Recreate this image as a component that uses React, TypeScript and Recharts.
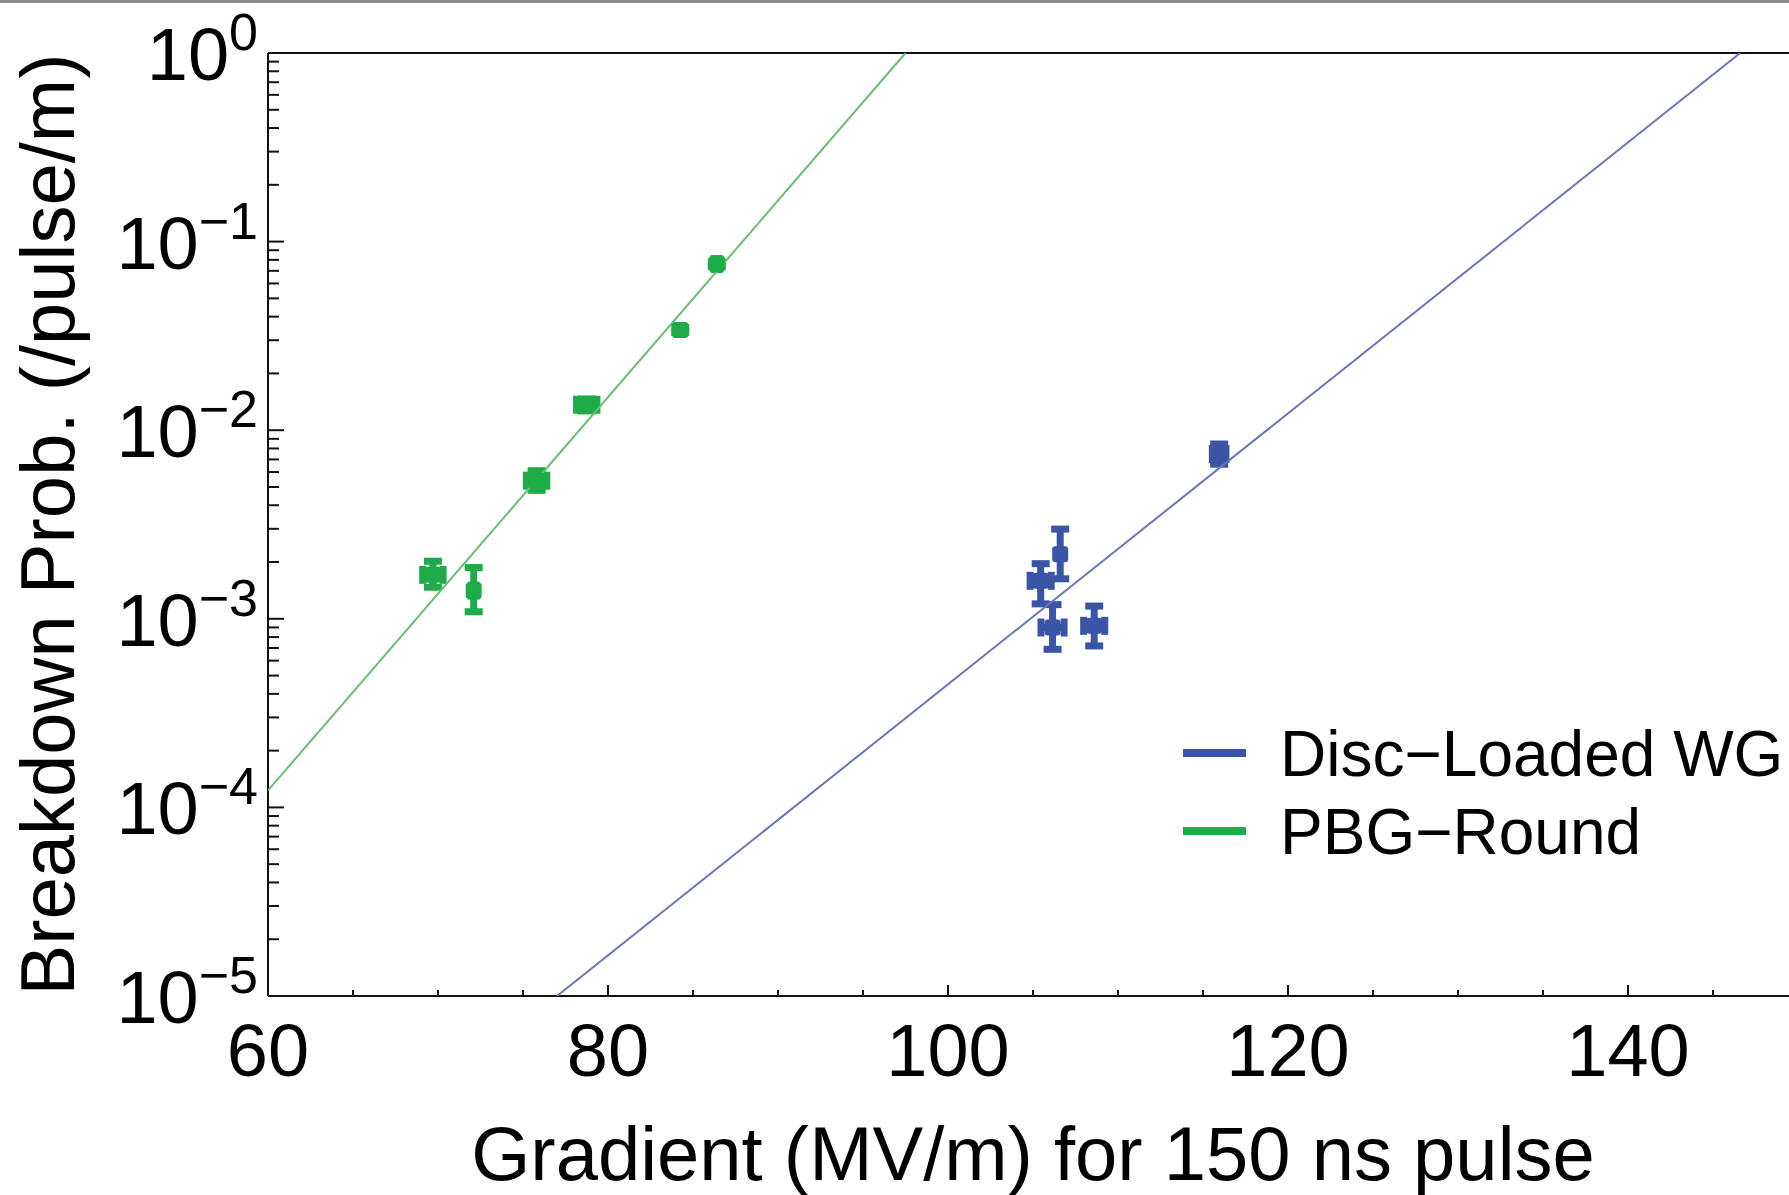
import React from 'react';
import { ComposedChart, Scatter, XAxis, YAxis, ErrorBar, Legend, ReferenceLine } from 'recharts';

const FONT = '"Liberation Sans", Arial, Helvetica, sans-serif';

const BLUE = '#3a55a5';
const BLUE_LINE = '#6c74bd';
const GREEN = '#1eab4a';
const GREEN_LINE = '#63c06c';

// PBG-Round measurements (gradient MV/m, breakdown prob /pulse/m)
const pbgPoints = [
  { x: 69.7, y: 1.71e-3, ex: 0.6, ey: [0.24e-3, 0.31e-3] },
  { x: 72.1, y: 1.41e-3, ex: 0.15, ey: [0.32e-3, 0.46e-3] },
  { x: 75.8, y: 5.4e-3, ex: 0.6, ey: [0.6e-3, 0.7e-3] },
  { x: 78.75, y: 1.365e-2, ex: 0.6, ey: [1.0e-3, 1.0e-3] },
  { x: 84.25, y: 3.4e-2, ex: 0, ey: [0.1e-2, 0.1e-2] },
  { x: 86.4, y: 7.6e-2, ex: 0.15, ey: [0.2e-2, 0.2e-2] },
];

// Disc-Loaded WG measurements
const discPoints = [
  { x: 115.95, y: 7.48e-3, ex: 0.4, ey: [0.88e-3, 0.97e-3] },
  { x: 106.6, y: 2.2e-3, ex: 0, ey: [0.57e-3, 0.79e-3] },
  { x: 105.45, y: 1.59e-3, ex: 0.62, ey: [0.39e-3, 0.37e-3] },
  { x: 106.15, y: 8.99e-4, ex: 0.68, ey: [0.21e-3, 0.29e-3] },
  { x: 108.6, y: 9.18e-4, ex: 0.62, ey: [0.2e-3, 0.25e-3] },
];

// Fit lines (end points)
const pbgFit = [
  { x: 60, y: 1.23e-4 },
  { x: 97.5, y: 1 },
];
const discFit = [
  { x: 77, y: 1e-5 },
  { x: 146.6, y: 1 },
];

const xMajorTicks = [60, 80, 100, 120, 140];
const xTicks = [60, 65, 70, 75, 80, 85, 90, 95, 100, 105, 110, 115, 120, 125, 130, 135, 140, 145];
const yMajorTicks = [1e-5, 1e-4, 1e-3, 1e-2, 1e-1, 1];
const yExponentLabels = ['\u22125', '\u22124', '\u22123', '\u22122', '\u22121', '0'];
const yMinorMultipliers = [2, 3, 4, 5, 6, 7, 8, 9];
const yTicks = [
  ...yMajorTicks,
  ...yMajorTicks.slice(0, 5).flatMap((m) => yMinorMultipliers.map((k) => k * m)),
].sort((a, b) => a - b);

const legendItems = [
  { label: 'Disc\u2212Loaded WG', color: BLUE },
  { label: 'PBG\u2212Round', color: GREEN },
];

function majorIndex(v: number) {
  return yMajorTicks.findIndex((m) => Math.abs(v / m - 1) < 1e-6);
}

function YTick(props: any) {
  const { x, y, payload } = props;
  const idx = majorIndex(payload.value);
  const major = idx >= 0;
  const len = major ? 16 : 11;
  return (
    <g>
      <line x1={x} x2={x + len} y1={y} y2={y} stroke="#111" strokeWidth={2} />
      {major && (
        <text x={x - 10} y={y + 27} textAnchor="end" fontSize={74} fontFamily={FONT} fill="#000">
          <tspan>10</tspan>
          <tspan dy={-30} fontSize={52}>
            {yExponentLabels[idx]}
          </tspan>
        </text>
      )}
    </g>
  );
}

function XTick(props: any) {
  const { x, y, payload } = props;
  const major = xMajorTicks.includes(payload.value);
  const len = major ? 11 : 6;
  return (
    <g>
      <line x1={x} x2={x} y1={y} y2={y - len} stroke="#111" strokeWidth={2} />
      {major && (
        <text x={x} y={y + 80} textAnchor="middle" fontSize={74} fontFamily={FONT} fill="#000">
          {payload.value}
        </text>
      )}
    </g>
  );
}

function Marker(props: any) {
  const { cx, cy, fill } = props;
  if (cx == null || cy == null) return <g />;
  return <rect x={cx - 8} y={cy - 8} width={16} height={16} rx={3} fill={fill} />;
}

function NoShape() {
  return <g />;
}

function LegendContent() {
  return (
    <svg width={600} height={200} style={{ overflow: 'visible' }}>
      {legendItems.map((it, i) => (
        <g key={it.label}>
          <rect x={0} y={49 + i * 78} width={63} height={8} fill={it.color} />
          <text x={97} y={76 + i * 78} fontSize={64} fontFamily={FONT} fill="#000">
            {it.label}
          </text>
        </g>
      ))}
    </svg>
  );
}

export default function App() {
  return (
    <div
      style={{
        position: 'absolute',
        left: 0,
        top: 0,
        width: 1789,
        height: 1195,
        overflow: 'hidden',
        background: '#fff',
      }}
    >
      <div style={{ position: 'absolute', left: 0, top: 0, width: 1789, height: 3, background: '#8c8c8c' }} />
      <ComposedChart width={1800} height={1195} margin={{ top: 53, right: 2, bottom: 0, left: 0 }}>
        <XAxis
          type="number"
          dataKey="x"
          domain={[60, 150]}
          ticks={xTicks}
          interval={0}
          allowDataOverflow
          height={199}
          tickSize={0}
          tickMargin={0}
          tickLine={false}
          tick={<XTick />}
          axisLine={{ stroke: '#111', strokeWidth: 2 }}
          label={{
            content: (p: any) => {
              const vb = p.viewBox || { x: 268, y: 996, width: 1530 };
              return (
                <text
                  x={vb.x + vb.width / 2}
                  y={vb.y + 184}
                  textAnchor="middle"
                  fontSize={76}
                  fontFamily={FONT}
                  fill="#000"
                >
                  Gradient (MV/m) for 150 ns pulse
                </text>
              );
            },
          }}
        />
        <YAxis
          type="number"
          dataKey="y"
          scale="log"
          domain={[1e-5, 1]}
          ticks={yTicks}
          interval={0}
          allowDataOverflow
          width={268}
          tickSize={0}
          tickMargin={0}
          tickLine={false}
          tick={<YTick />}
          axisLine={{ stroke: '#111', strokeWidth: 2 }}
          label={{
            content: (p: any) => {
              const vb = p.viewBox || { x: 0, y: 53, width: 268, height: 943 };
              const cx = 74;
              const cy = vb.y + vb.height / 2;
              return (
                <text
                  x={cx}
                  y={cy}
                  transform={`rotate(-90, ${cx}, ${cy})`}
                  textAnchor="middle"
                  fontSize={76}
                  fontFamily={FONT}
                  fill="#000"
                >
                  Breakdown Prob. (/pulse/m)
                </text>
              );
            },
          }}
        />
        <ReferenceLine y={1} stroke="#111" strokeWidth={2} />
        <Scatter
          data={pbgFit}
          line={{ stroke: GREEN_LINE, strokeWidth: 2 }}
          shape={<NoShape />}
          legendType="none"
          isAnimationActive={false}
        />
        <Scatter
          data={discFit}
          line={{ stroke: BLUE_LINE, strokeWidth: 2 }}
          shape={<NoShape />}
          legendType="none"
          isAnimationActive={false}
        />
        <Scatter data={pbgPoints} fill={GREEN} shape={<Marker />} isAnimationActive={false}>
          <ErrorBar dataKey="ey" direction="y" width={9} strokeWidth={7} stroke={GREEN} isAnimationActive={false} />
          <ErrorBar dataKey="ex" direction="x" width={9} strokeWidth={7} stroke={GREEN} isAnimationActive={false} />
        </Scatter>
        <Scatter data={discPoints} fill={BLUE} shape={<Marker />} isAnimationActive={false}>
          <ErrorBar dataKey="ey" direction="y" width={9} strokeWidth={7} stroke={BLUE} isAnimationActive={false} />
          <ErrorBar dataKey="ex" direction="x" width={9} strokeWidth={7} stroke={BLUE} isAnimationActive={false} />
        </Scatter>
        <Legend
          layout="vertical"
          align="center"
          verticalAlign="middle"
          content={<LegendContent />}
          wrapperStyle={{ left: 1183, top: 700, width: 600, height: 200 }}
        />
      </ComposedChart>
    </div>
  );
}
